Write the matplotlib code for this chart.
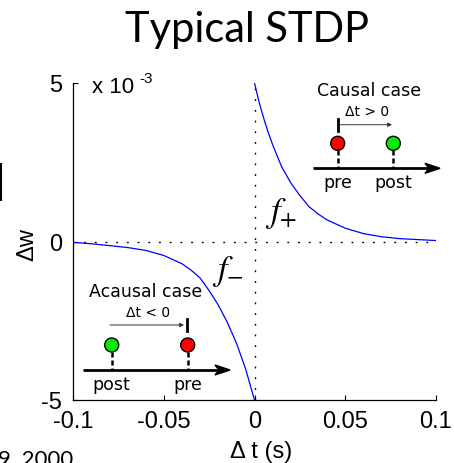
import matplotlib
matplotlib.use("Agg")
import matplotlib.pyplot as plt
from matplotlib.transforms import Affine2D
from matplotlib.patches import Circle, Polygon, FancyArrowPatch
from matplotlib.lines import Line2D

# ---------------- data (Delta w in units of 1e-3) ----------------
dt_pos = [0, 0.0025, 0.005, 0.0075, 0.01, 0.015, 0.02, 0.025, 0.03, 0.035,
          0.04, 0.05, 0.06, 0.07, 0.08, 0.09, 0.1]
dw_pos = [5.0, 4.4, 3.9, 3.45, 3.05, 2.35, 1.85, 1.45, 1.1, 0.87,
          0.68, 0.42, 0.25, 0.15, 0.09, 0.06, 0.03]
dt_neg = [-0.1, -0.09, -0.08, -0.07, -0.06, -0.05, -0.04, -0.035, -0.03,
          -0.025, -0.02, -0.015, -0.01, -0.0075, -0.005, -0.0025, 0]
dw_neg = [-0.03, -0.07, -0.13, -0.19, -0.28, -0.44, -0.70, -0.90, -1.15,
          -1.55, -2.0, -2.55, -3.2, -3.6, -4.0, -4.5, -5.0]
x_ticks = [-0.1, -0.05, 0, 0.05, 0.1]
x_ticklabels = ["-0.1", "-0.05", "0", "0.05", "0.1"]
y_ticks = [-5, 0, 5]
y_ticklabels = ["-5", "0", "5"]

W, H = 454, 464
fig = plt.figure(figsize=(W / 100, H / 100), dpi=100)
# pixel transform (origin top-left)
px = Affine2D().scale(1 / 100, -1 / 100).translate(0, H / 100) + fig.dpi_scale_trans

def fx(x):
    return x / W

def fy(y):
    return 1 - y / H

ax = fig.add_axes([fx(73), fy(401), fx(436) - fx(73), fy(84) - fy(401)])
ax.set_xlim(-0.1, 0.1)
ax.set_ylim(-5, 5)
for s in ["top", "right"]:
    ax.spines[s].set_visible(False)
for s in ["left", "bottom"]:
    ax.spines[s].set_linewidth(0.9)

ax.plot([-0.1, 0.1], [0, 0], color="black", lw=1.0, dashes=(1.3, 6.4), zorder=1)
ax.plot([0, 0], [-5, 5], color="black", lw=1.0, dashes=(1.3, 6.4), zorder=1)
ax.plot(dt_pos, dw_pos, color="#0000ff", lw=0.9, zorder=2)
ax.plot(dt_neg, dw_neg, color="#0000ff", lw=0.9, zorder=2)

tickfont = dict(family="Liberation Sans", size=17)
ax.set_xticks(x_ticks)
ax.set_xticklabels(x_ticklabels, fontdict=tickfont)
ax.set_yticks(y_ticks)
ax.set_yticklabels(y_ticklabels, fontdict=tickfont)
ax.tick_params(direction="in", length=3.5, width=0.8)
ax.tick_params(axis="x", pad=7)
ax.tick_params(axis="y", pad=8)

# multiplier
fig.text(fx(92), fy(93), "x 10", family="Liberation Sans", size=16,
         ha="left", va="baseline")
fig.text(fx(139), fy(83), "-3", family="Liberation Sans", size=11,
         ha="left", va="baseline")

# axis labels
fig.text(fx(261), fy(458), "\u0394 t (s)", family="Liberation Sans", size=17,
         ha="center", va="baseline")
fig.text(fx(27), fy(245), "\u0394w", family="Liberation Sans", size=17,
         ha="center", va="center", rotation=90)

# title
fig.text(fx(247), fy(42), "Typical STDP", family="Lato", size=30,
         ha="center", va="baseline")

# f labels
plt.rcParams["mathtext.fontset"] = "stix"
fig.text(fx(265), fy(222), r"$f_{+}$", size=25, ha="left", va="baseline")
fig.text(fx(212), fy(280), r"$f_{-}$", size=25, ha="left", va="baseline")

# slide leftovers
fig.add_artist(Line2D([0, 0], [165, 200], color="black", lw=2.2, transform=px))
fig.text(fx(-2), fy(449), "9, 2000", family="Lato", size=16, ha="left", va="top")

# ---------------- inset diagrams ----------------
def diagram(line_x0, line_x1, line_y, c_left, c_right, col_left, col_right,
            lab_left, lab_right, bar_x, arr_x0, arr_x1, arr_y, title, title_xy,
            dt_text, dt_xy):
    # time axis with arrow
    fig.add_artist(Line2D([line_x0, line_x1 - 12], [line_y, line_y], color="black",
                          lw=2.0, transform=px, solid_capstyle="butt"))
    fig.add_artist(Polygon([[line_x1 - 15, line_y - 5], [line_x1, line_y],
                            [line_x1 - 15, line_y + 5], [line_x1 - 11, line_y]],
                           closed=True, color="black", transform=px))
    cy = line_y - 25
    for cx, col in [(c_left, col_left), (c_right, col_right)]:
        fig.add_artist(Line2D([cx, cx], [cy + 7, line_y], color="black", lw=1.8,
                              dashes=(2.0, 1.2), transform=px))
        fig.add_artist(Circle((cx, cy), 7, facecolor=col, edgecolor="black",
                              lw=1.0, transform=px, zorder=5))
    fig.text(c_left / W, fy(line_y + 14), lab_left, family="DejaVu Sans", size=12.5,
             ha="center", va="center")
    fig.text(c_right / W, fy(line_y + 14), lab_right, family="DejaVu Sans", size=12.5,
             ha="center", va="center")
    # bar
    fig.add_artist(Line2D([bar_x, bar_x], [arr_y - 6, arr_y + 6], color="black",
                          lw=2.0, transform=px))
    # thin arrow
    fig.add_artist(FancyArrowPatch((arr_x0, arr_y), (arr_x1, arr_y),
                                   arrowstyle="-|>", mutation_scale=6,
                                   color="#333333", lw=0.7, transform=px,
                                   shrinkA=0, shrinkB=0))
    fig.text(fx(title_xy[0]), fy(title_xy[1]), title, family="DejaVu Sans",
             size=12.5, ha="center", va="center")
    fig.text(fx(dt_xy[0]), fy(dt_xy[1]), dt_text, family="DejaVu Sans",
             size=10, ha="center", va="center")

# causal case (top right)
diagram(312.7, 440, 169.3, 337.7, 393.3, "#ff0000", "#00ee00", "pre", "post",
        337.5, 340, 392, 125.7, "Causal case", (369, 91.5), "\u0394t > 0", (367, 112.5))
# acausal case (bottom left)
diagram(82.7, 230, 371, 111.7, 187.7, "#00ee00", "#ff0000", "post", "pre",
        186.7, 110, 184, 326, "Acausal case", (146, 292), "\u0394t < 0", (148, 313.5))

fig.savefig("out.png", dpi=100)
